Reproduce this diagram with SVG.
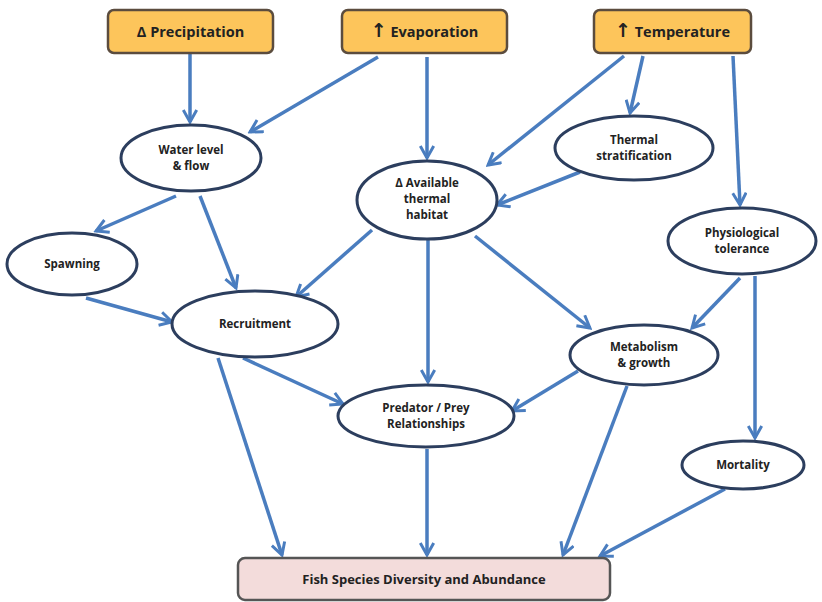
<svg xmlns="http://www.w3.org/2000/svg" width="822" height="602" viewBox="0 0 822 602">
<defs>
<marker id="arr" viewBox="0 0 12 12" refX="10" refY="6" markerWidth="4.6" markerHeight="4.6" orient="auto" markerUnits="strokeWidth">
<path d="M1,1 L10,6 L1,11" fill="none" stroke="#4a7dbf" stroke-width="2.2" stroke-linejoin="miter"/>
</marker>
<style>
.top{fill:#fdc55b;stroke:#5b4c3e;stroke-width:2.5}
.ell{fill:#ffffff;stroke:#2c3e5e;stroke-width:3}
.fish{fill:#f3dcdb;stroke:#555555;stroke-width:2.5}
.t{font-family:"Open Sans","Liberation Sans",sans-serif;font-weight:bold;fill:#222;text-anchor:middle}
.tt{font-size:14.5px}
.ar{font-family:"DejaVu Sans",sans-serif;font-size:19px;font-weight:bold}
.te{font-size:11.5px}
#conn line{stroke:#4a7dbf;stroke-width:3.5;marker-end:url(#arr)}
</style>
</defs>
<rect width="822" height="602" fill="#ffffff"/>
<g id="conn">
<line x1="190" y1="54" x2="190" y2="122"/>
<line x1="378" y1="57" x2="250" y2="132"/>
<line x1="427" y1="57" x2="427" y2="158"/>
<line x1="624" y1="56" x2="488" y2="165"/>
<line x1="643" y1="56" x2="630" y2="113"/>
<line x1="733" y1="56" x2="740" y2="205"/>
<line x1="580" y1="172" x2="497" y2="205"/>
<line x1="176" y1="196" x2="96" y2="231"/>
<line x1="200" y1="196" x2="236" y2="288"/>
<line x1="86" y1="298" x2="172" y2="322"/>
<line x1="372" y1="230" x2="296" y2="297"/>
<line x1="428" y1="240" x2="428" y2="382"/>
<line x1="475" y1="236" x2="590" y2="328"/>
<line x1="740" y1="278" x2="692" y2="328"/>
<line x1="755" y1="276" x2="755" y2="438"/>
<line x1="243" y1="358" x2="343" y2="404"/>
<line x1="578" y1="371" x2="512" y2="411"/>
<line x1="218" y1="358" x2="282" y2="555"/>
<line x1="427" y1="449" x2="427" y2="555"/>
<line x1="627" y1="386" x2="563" y2="555"/>
<line x1="725" y1="489" x2="600" y2="556"/>
</g>
<g id="precipitation">
<rect class="top" x="108" y="10" width="165" height="43" rx="6"/>
<text class="t tt" x="190.5" y="37">Δ Precipitation</text>
</g>
<g id="evaporation">
<rect class="top" x="342" y="10" width="165" height="43" rx="6"/>
<text class="t tt" x="424.5" y="37"><tspan class="ar">↑</tspan> Evaporation</text>
</g>
<g id="temperature">
<rect class="top" x="594" y="10" width="157" height="43" rx="6"/>
<text class="t tt" x="672.5" y="37"><tspan class="ar">↑</tspan> Temperature</text>
</g>
<g id="waterlevel">
<ellipse class="ell" cx="191" cy="158" rx="70" ry="33"/>
<text class="t te" x="191" y="154">Water level</text>
<text class="t te" x="191" y="170">&amp; flow</text>
</g>
<g id="habitat">
<ellipse class="ell" cx="427" cy="200" rx="70" ry="39"/>
<text class="t te" x="427" y="187">Δ Available</text>
<text class="t te" x="427" y="203">thermal</text>
<text class="t te" x="427" y="219">habitat</text>
</g>
<g id="stratification">
<ellipse class="ell" cx="634" cy="148" rx="79" ry="32"/>
<text class="t te" x="634" y="144">Thermal</text>
<text class="t te" x="634" y="160">stratification</text>
</g>
<g id="physiological">
<ellipse class="ell" cx="742" cy="241" rx="74" ry="33"/>
<text class="t te" x="742" y="237">Physiological</text>
<text class="t te" x="742" y="253">tolerance</text>
</g>
<g id="spawning">
<ellipse class="ell" cx="72" cy="264" rx="65" ry="31"/>
<text class="t te" x="72" y="268">Spawning</text>
</g>
<g id="recruitment">
<ellipse class="ell" cx="255" cy="324" rx="83" ry="33"/>
<text class="t te" x="255" y="328">Recruitment</text>
</g>
<g id="metabolism">
<ellipse class="ell" cx="644" cy="355" rx="74" ry="30"/>
<text class="t te" x="644" y="351">Metabolism</text>
<text class="t te" x="644" y="367">&amp; growth</text>
</g>
<g id="predator">
<ellipse class="ell" cx="426" cy="416" rx="88" ry="31"/>
<text class="t te" x="426" y="412">Predator / Prey</text>
<text class="t te" x="426" y="428">Relationships</text>
</g>
<g id="mortality">
<ellipse class="ell" cx="743" cy="465" rx="61" ry="24"/>
<text class="t te" x="743" y="469">Mortality</text>
</g>
<g id="fish">
<rect class="fish" x="238" y="558" width="372" height="42" rx="7"/>
<text class="t" style="font-size:13px" x="424" y="584">Fish Species Diversity and Abundance</text>
</g>
</svg>
